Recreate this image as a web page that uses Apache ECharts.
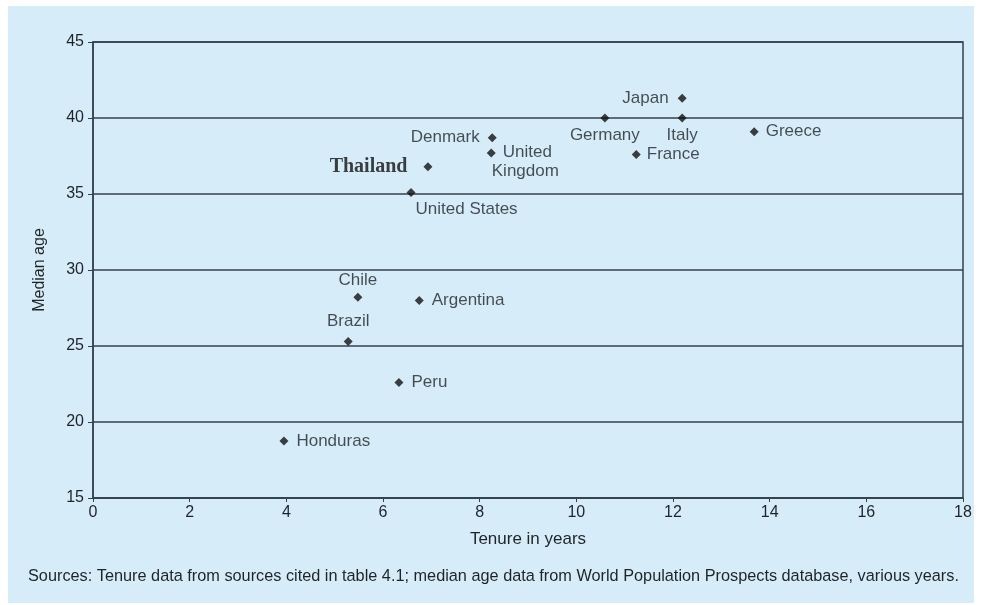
<!DOCTYPE html>
<html>
<head>
<meta charset="utf-8">
<script src="https://cdn.jsdelivr.net/npm/echarts@6/dist/echarts.min.js"></script>
<style>
  html, body { margin: 0; padding: 0; background: #fff; }
  #container { width: 982px; height: 605px; }
</style>
</head>
<body>
<div id="container"></div>
<script>
  // countries, tenure (years) and median age
  var countries = ['Japan', 'Italy', 'Germany', 'Greece', 'France', 'Denmark', 'United Kingdom',
    'Thailand', 'United States', 'Chile', 'Argentina', 'Brazil', 'Peru', 'Honduras'];
  var tenure = [12.19, 12.19, 10.59, 13.68, 11.24, 8.26, 8.24, 6.93, 6.58, 5.48, 6.75, 5.28, 6.33, 3.95];
  var medianAge = [41.3, 40.0, 40.0, 39.1, 37.6, 38.7, 37.7, 36.8, 35.1, 28.2, 28.0, 25.3, 22.6, 18.75];
  var xTicks = [0, 2, 4, 6, 8, 10, 12, 14, 16, 18];
  var yTicks = [15, 20, 25, 30, 35, 40, 45];

  var lineColor = '#34424c';
  var textColor = '#1f2429';

  // where each label sits relative to its marker
  var labelPos = {
    'Japan': { position: 'left', distance: 9 },
    'Italy': { position: 'bottom', distance: 4 },
    'Germany': { position: 'bottom', distance: 4 },
    'Greece': { position: 'right', distance: 7 },
    'France': { position: 'right', distance: 6 },
    'Denmark': { position: 'left', distance: 8 },
    'United Kingdom': { position: [16, -6], align: 'left',
      formatter: '{a|United}\n{b|Kingdom}' },
    'Thailand': { position: 'left', distance: 16, fontFamily: 'Liberation Serif',
      fontWeight: 'bold', fontSize: 20, color: '#111' },
    'United States': { position: [9, 13], align: 'left' },
    'Chile': { position: 'top', distance: 4 },
    'Argentina': { position: 'right', distance: 8 },
    'Brazil': { position: 'top', distance: 7 },
    'Peru': { position: 'right', distance: 8 },
    'Honduras': { position: 'right', distance: 8 }
  };

  var points = countries.map(function (name, i) {
    var lab = Object.assign({ show: true }, labelPos[name]);
    return { name: name, value: [tenure[i], medianAge[i]], label: lab };
  });

  var myChart = echarts.init(document.getElementById('container'));
  var option = {
    backgroundColor: '#fff',
    animation: false,
    textStyle: { fontFamily: 'Liberation Sans, Arial, sans-serif' },
    graphic: {
      elements: [
        {
          type: 'rect', z: -100, silent: true,
          shape: { x: 8, y: 6, width: 966, height: 597 },
          style: { fill: '#d6ecf8' }
        },
        {
          type: 'text', left: 28, top: 569, silent: true,
          style: {
            text: 'Sources: Tenure data from sources cited in table 4.1; median age data from World Population Prospects database, various years.',
            fill: textColor, fontSize: 16.3, fontFamily: 'Liberation Sans, Arial, sans-serif'
          }
        }
      ]
    },
    grid: {
      left: 93, right: 19, top: 42, bottom: 107,
      show: true, borderColor: lineColor, borderWidth: 1.5, backgroundColor: 'transparent'
    },
    xAxis: {
      type: 'value', min: 0, max: 18, interval: 2,
      name: 'Tenure in years', nameLocation: 'middle', nameGap: 33,
      nameTextStyle: { fontSize: 17, color: textColor },
      axisLine: { show: true, lineStyle: { color: lineColor, width: 1.5 } },
      axisTick: { show: true, length: 4, lineStyle: { color: lineColor } },
      axisLabel: { fontSize: 16, color: textColor, margin: 7,
        customValues: xTicks },
      splitLine: { show: false }
    },
    yAxis: {
      type: 'value', min: 15, max: 45, interval: 5,
      name: 'Median age', nameLocation: 'middle', nameGap: 45,
      nameTextStyle: { fontSize: 16, color: textColor },
      axisLine: { show: true, lineStyle: { color: lineColor, width: 1.5 } },
      axisTick: { show: true, length: 5, lineStyle: { color: lineColor } },
      axisLabel: { fontSize: 16, color: textColor, margin: 9,
        customValues: yTicks },
      splitLine: { show: true, lineStyle: { color: lineColor, width: 1.5 } }
    },
    series: [
      {
        type: 'scatter',
        symbol: 'diamond',
        symbolSize: 9,
        itemStyle: { color: '#111' },
        label: {
          show: true,
          formatter: '{b}',
          fontSize: 17,
          color: textColor,
          rich: {
            a: { fontSize: 17, color: textColor, lineHeight: 19 },
            b: { fontSize: 17, color: textColor, lineHeight: 19, padding: [0, 0, 0, -11] }
          }
        },
        data: points
      }
    ]
  };
  myChart.setOption(option, true);
</script>
</body>
</html>
